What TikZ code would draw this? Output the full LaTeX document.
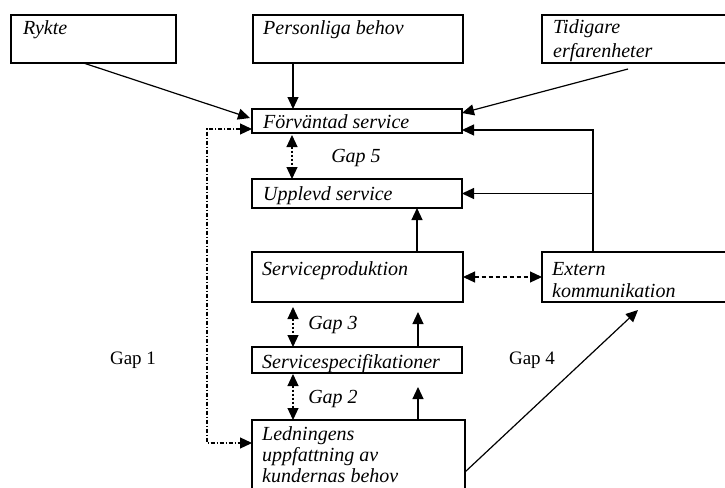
\documentclass[tikz,border=0pt]{standalone}
\usepackage{fontspec}
\setmainfont{Liberation Serif}
\usetikzlibrary{arrows.meta,calc}
\tikzset{
  box/.style={draw, line width=1.2pt, rectangle, inner sep=0pt, outer sep=0pt, anchor=north west},
  lbl/.style={font=\fontsize{20}{22}\selectfont\itshape, inner sep=0pt, anchor=base west, align=left},
  gaplbl/.style={font=\fontsize{20}{22}\selectfont\itshape, inner sep=0pt},
  gapup/.style={font=\fontsize{19}{22}\selectfont, inner sep=0pt},
  tip/.style={Triangle[length=12pt,width=11pt]},
  conn/.style={line width=1.2pt, -{Triangle[length=12pt,width=11pt]}},
  gapdot/.style={line width=1.2pt, dash pattern=on 2pt off 2pt, {Triangle[length=12pt,width=11pt]}-{Triangle[length=12pt,width=11pt]}},
  gapdash/.style={line width=1.2pt, dash pattern=on 4pt off 3pt, {Triangle[length=12pt,width=11pt]}-{Triangle[length=12pt,width=11pt]}},
  gapone/.style={line width=1.2pt, dash pattern=on 4pt off 2pt on 1pt off 2pt, {Triangle[length=12pt,width=11pt]}-{Triangle[length=12pt,width=11pt]}},
}
\begin{document}
\begin{tikzpicture}[x=1pt,y=-1pt]
\useasboundingbox (0,0) rectangle (725,487);
\clip (0,0) rectangle (725,487);
% boxes
\node[box, minimum width=165pt, minimum height=48pt] (rykte) at (11,15) {};
\node[box, minimum width=210pt, minimum height=48pt] (pers) at (253,15) {};
\node[box, minimum width=200pt, minimum height=48pt] (tid) at (542,15) {};
\node[box, minimum width=210pt, minimum height=24pt] (forv) at (252,109) {};
\node[box, minimum width=210pt, minimum height=29pt] (uppl) at (252,179) {};
\node[box, minimum width=211pt, minimum height=50pt] (prod) at (252,252) {};
\node[box, minimum width=210pt, minimum height=26pt] (spec) at (252,347) {};
\node[box, minimum width=213pt, minimum height=90pt] (led) at (252,420) {};
\node[box, minimum width=200pt, minimum height=50pt] (ext) at (542,252) {};
% texts (multi-line: anchor at baseline of last line)
\node[lbl] (trykte) at ([xshift=12pt,yshift=-20pt]rykte.north west) {Rykte};
\node[lbl] (tpers) at ([xshift=10pt,yshift=-20pt]pers.north west) {Personliga behov};
\node[lbl] (ttid) at ([xshift=11pt,yshift=-42pt]tid.north west) {Tidigare\\[2pt]erfarenheter};
\node[lbl] (tforv) at ([xshift=11pt,yshift=-19pt]forv.north west) {Förväntad service};
\node[lbl] (tuppl) at ([xshift=11pt,yshift=-21pt]uppl.north west) {Upplevd service};
\node[lbl] (tprod) at ([xshift=10pt,yshift=-23pt]prod.north west) {Serviceproduktion};
\node[lbl] (tspec) at ([xshift=10pt,yshift=-21pt]spec.north west) {Servicespecifikationer};
\node[lbl, font=\fontsize{20}{21}\selectfont\itshape] (tled) at ([xshift=10pt,yshift=-62pt]led.north west) {Ledningens\\uppfattning av\\kundernas behov};
\node[lbl] (text) at ([xshift=10pt,yshift=-45pt]ext.north west) {Extern\\kommunikation};
% gap labels
\node[gaplbl] (g5) at (356,158) {Gap 5};
\node[gaplbl] (g3) at (333,325) {Gap 3};
\node[gaplbl] (g2) at (333,399) {Gap 2};
\node[gapup] (g1) at (133,360) {Gap 1};
\node[gapup] (g4) at (532,360) {Gap 4};
% solid connectors
\draw[conn] ([xshift=-10pt]rykte.south) -- ([xshift=-2pt,yshift=-9pt]forv.north west);
\draw[conn] ([xshift=40pt]pers.south west) -- ([xshift=40pt]pers.south west |- forv.north);
\draw[conn] ([xshift=86pt,yshift=-6pt]tid.south west) -- ([yshift=-4pt]forv.north east);
\coordinate (vtop) at ([xshift=51pt]ext.north west);
\draw[conn] (vtop) |- ([yshift=3pt]forv.south east);
\draw[conn] (vtop |- uppl.east) -- (uppl.east);
\draw[conn] ([xshift=165pt]prod.north west) -- ([xshift=165pt]prod.north west |- uppl.south);
\draw[conn] ([xshift=166pt]spec.north west) -- ([xshift=166pt,yshift=-10pt]spec.north west |- prod.south);
\draw[conn] ([xshift=166pt]led.north west) -- ([xshift=166pt,yshift=-14pt]led.north west |- spec.south);
\draw[conn] ([yshift=-52pt]led.north east) -- ([xshift=96pt,yshift=-8pt]ext.south west);
% gap connectors
\draw[gapdot] ([xshift=40pt,yshift=-2pt]forv.south west) -- ([xshift=40pt]forv.south west |- uppl.north);
\draw[gapdot] ([xshift=41pt,yshift=-5pt]prod.south west) -- ([xshift=41pt]prod.south west |- spec.north);
\draw[gapdot] ([xshift=41pt,yshift=-1pt]spec.south west) -- ([xshift=41pt]spec.south west |- led.north);
\draw[gapdash] (prod.east) -- (ext.west);
\draw[gapone] ([yshift=4pt]forv.south west) -- ++(-45,0) |- ([yshift=-23pt]led.north west);
\end{tikzpicture}
\end{document}
